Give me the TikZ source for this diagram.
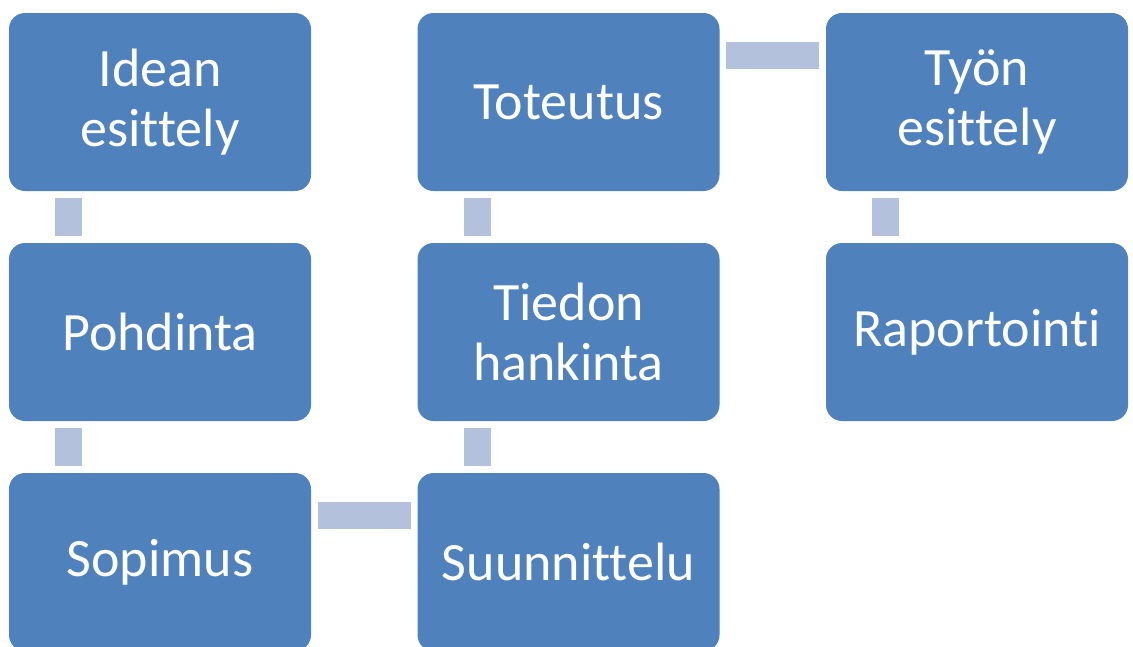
\documentclass[tikz,border=0pt]{standalone}
\usepackage{fontspec}
\setmainfont[Ligatures=NoCommon]{Carlito}
\usepackage{xcolor}
\definecolor{stepblue}{HTML}{4F81BD}
\definecolor{linkblue}{HTML}{B3C1DD}

\begin{document}
\begin{tikzpicture}[x=1pt,y=-1pt]
			\tikzstyle{stage}=[fill=stepblue, rounded corners=16pt, minimum width=302pt, minimum height=178pt, text=white, align=center, inner sep=0pt, font=\fontsize{54}{60}\selectfont]
			\tikzset{link/.style = {draw=linkblue, line width=27pt, shorten <=6.5pt, shorten >=6.5pt}}
			\useasboundingbox (0,0) rectangle (1133,646);
			
			\node[stage](idea) at (160,102) {Idean\\esittely};
			\node[stage](pohdinta) at (160,332) {Pohdinta};
			\node[stage](sopimus) at (160,562) {Sopimus};
			\node[stage](suunnittelu) at (568.5,562) {Suunnittelu};
			\node[stage](tieto) at (568.5,332) {Tiedon\\hankinta};
			\node[stage](toteutus) at (568.5,102) {Toteutus};
			\node[stage](esittely) at (977,102) {Työn\\esittely};
			\node[stage](raportointi) at (977,332) {Raportointi};
			
			\draw[link]([xshift=60pt]idea.south west) to ([xshift=60pt]pohdinta.north west);
			\draw[link]([xshift=60pt]pohdinta.south west) to ([xshift=60pt]sopimus.north west);
			\draw[link]([yshift=-42.5pt]sopimus.north east) to ([yshift=-42.5pt]suunnittelu.north west);
			\draw[link]([xshift=60pt]suunnittelu.north west) to ([xshift=60pt]tieto.south west);
			\draw[link]([xshift=60pt]tieto.north west) to ([xshift=60pt]toteutus.south west);
			\draw[link]([yshift=-42.5pt]toteutus.north east) to ([yshift=-42.5pt]esittely.north west);
			\draw[link]([xshift=60pt]esittely.south west) to ([xshift=60pt]raportointi.north west);
			
\end{tikzpicture}
\end{document}
